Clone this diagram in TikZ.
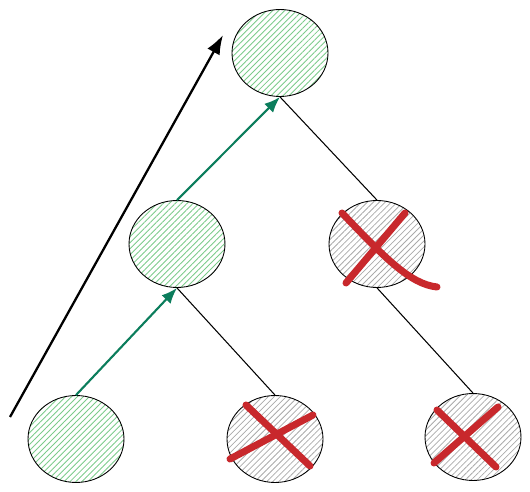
\documentclass[tikz,border=0pt]{standalone}
\usepackage{tikz}
\usepackage{xcolor}
\definecolor{treeEdge}{HTML}{000000}
\definecolor{pathGreen}{HTML}{0B7D5C}
\definecolor{hatchGreen}{HTML}{7CCB8B}
\definecolor{hatchGray}{HTML}{AAAAAA}
\definecolor{pruneRed}{HTML}{C8282C}
\usetikzlibrary{shapes.geometric, arrows.meta, patterns.meta}

\tikzset{
  treenode/.style={ellipse, draw, line width=0.5pt, minimum width=1.92cm, minimum height=1.74cm},
  kept/.style={treenode, pattern={Lines[angle=45, distance=2.4pt, line width=0.5pt]}, pattern color=hatchGreen},
  pruned/.style={treenode, pattern={Lines[angle=45, distance=2.4pt, line width=0.45pt]}, pattern color=hatchGray},
  cross/.style={pruneRed, line width=4pt, line cap=round}
}

\begin{document}
\begin{tikzpicture}[x=0.02cm, y=-0.02cm]
  \useasboundingbox (0,0) rectangle (530,492);
  \node[kept] (R) at (280,53) {};
  \node[kept] (ML) at (177,244) {};
  \node[pruned] (MR) at (377,244) {};
  \node[kept] (BL) at (76,439) {};
  \node[pruned] (BM) at (275,439) {};
  \node[pruned] (BR) at (473,437) {};
  \coordinate (S) at (10,417);
  \coordinate (T) at (223,35);
  \draw[treeEdge, line width=0.6pt] (R.south) -- (MR.north);
  \draw[treeEdge, line width=0.6pt] (ML.south) -- (BM.north);
  \draw[treeEdge, line width=0.6pt] (MR.south) -- (BR.north);
  \draw[pathGreen, line width=1.2pt, -{Latex[length=9pt, width=7pt]}] (ML.north) -- (R.south);
  \draw[pathGreen, line width=1.2pt, -{Latex[length=9pt, width=7pt]}] (BL.north) -- (ML.south);
  \draw[black, line width=1.3pt, -{Latex[length=11pt, width=8pt]}] (S) -- (T);
  % crosses on the pruned nodes
  \draw[cross] (342,213) .. controls (385,258) and (410,284) .. (437,287);
  \draw[cross] (405,213) -- (346,283);
  \draw[cross] (246,405) -- (310,466);
  \draw[cross] (230,459) -- (313,415);
  \draw[cross] (437,410) -- (496,467);
  \draw[cross] (498,407) -- (434,463);
\end{tikzpicture}
\end{document}
